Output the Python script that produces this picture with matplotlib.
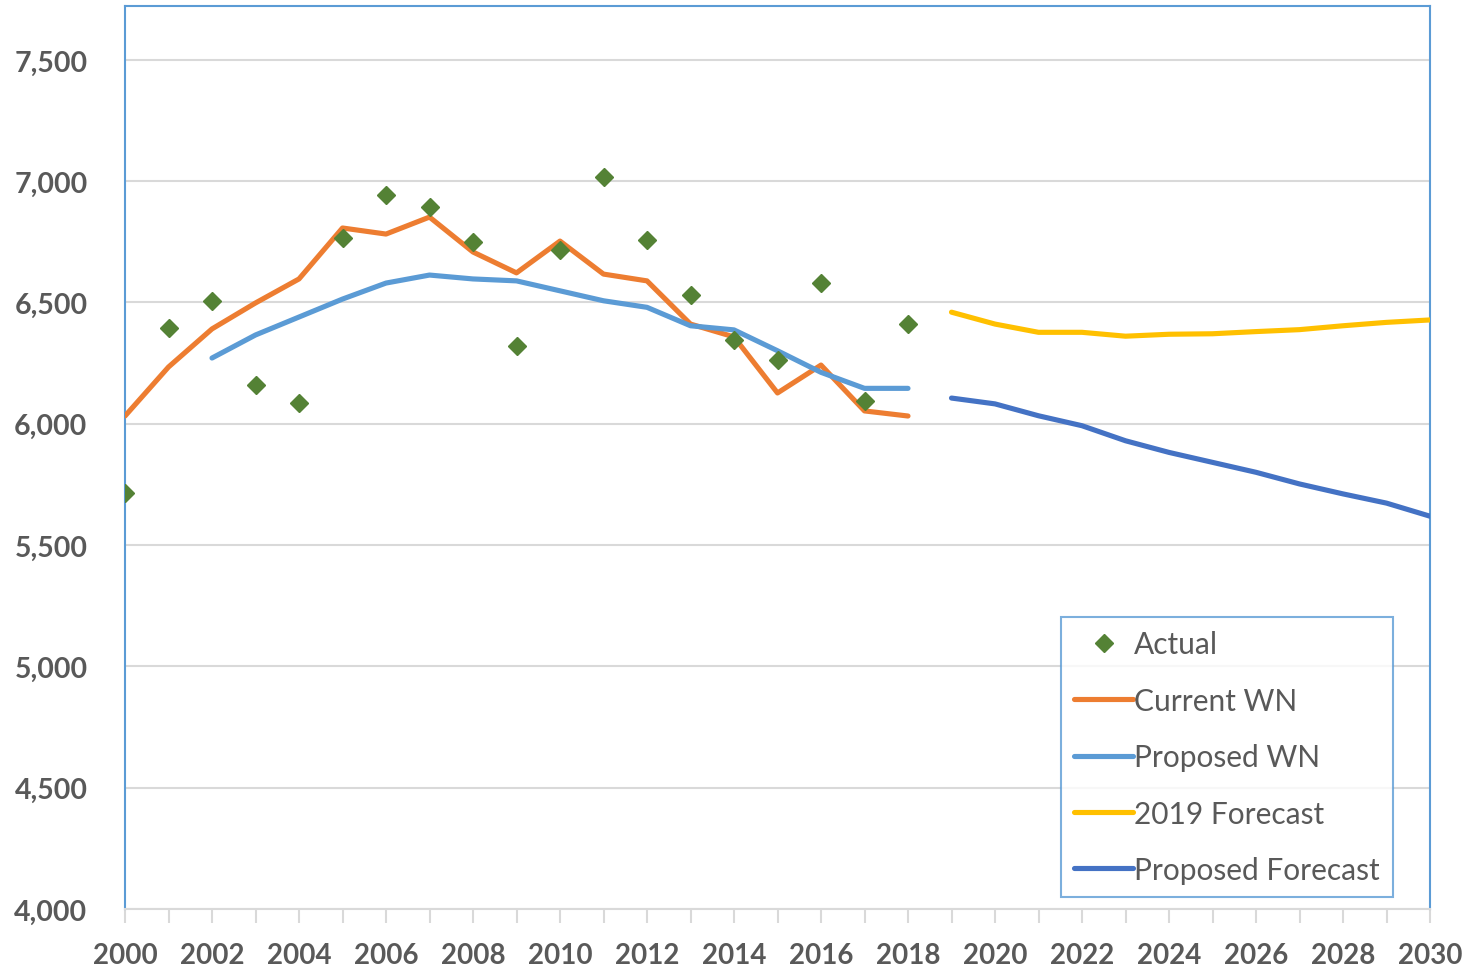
import numpy as np
import matplotlib.pyplot as plt
from matplotlib.ticker import FuncFormatter, MultipleLocator

hist_years = list(range(2000, 2019))
actual = [5715, 6395, 6506, 6160, 6086, 6766, 6943, 6894, 6749, 6321,
          6716, 7017, 6758, 6531, 6345, 6263, 6580, 6094, 6411]
current_wn = [6032, 6234, 6391, 6498, 6597, 6807, 6782, 6852, 6708, 6622,
              6753, 6617, 6589, 6411, 6358, 6127, 6242, 6053, 6032]
prop_years = list(range(2002, 2019))
proposed_wn = [6271, 6366, 6440, 6514, 6580, 6613, 6597, 6589, 6548, 6507,
               6480, 6404, 6387, 6301, 6212, 6146, 6146]
fc_years = list(range(2019, 2031))
forecast_2019 = [6460, 6411, 6377, 6377, 6361, 6369, 6371, 6380, 6388, 6404, 6418, 6428]
proposed_fc = [6106, 6082, 6033, 5992, 5930, 5882, 5841, 5800, 5752, 5711, 5673, 5619]

plt.rcParams['font.family'] = ['Lato', 'DejaVu Sans']
txt = '#595959'
lw = 3.7

fig = plt.figure(figsize=(14.68, 9.70), dpi=100)
ax = fig.add_axes([125 / 1468, 1 - 910 / 970, 1305 / 1468, 903 / 970])

ax.plot(hist_years, actual, linestyle='none', marker='D', markersize=9,
        color='#548235', label='Actual', zorder=5)
ax.plot(hist_years, current_wn, color='#ED7D31', lw=lw, solid_capstyle='round',
        label='Current WN', zorder=3)
ax.plot(prop_years, proposed_wn, color='#5B9BD5', lw=lw, solid_capstyle='round',
        label='Proposed WN', zorder=3)
ax.plot(fc_years, forecast_2019, color='#FFC000', lw=lw, solid_capstyle='round',
        label='2019 Forecast', zorder=3)
ax.plot(fc_years, proposed_fc, color='#4472C4', lw=lw, solid_capstyle='round',
        label='Proposed Forecast', zorder=3)

ax.set_xlim(2000, 2030)
ax.set_ylim(4000, 7722)
ax.yaxis.set_major_locator(MultipleLocator(500))
ax.yaxis.set_major_formatter(FuncFormatter(lambda v, p: f'{int(v):,}'))
ax.xaxis.set_major_locator(MultipleLocator(2))
ax.xaxis.set_minor_locator(MultipleLocator(1))
ax.grid(axis='y', color='#D9D9D9', lw=1.5, zorder=0)

for s in ['left', 'top', 'right']:
    ax.spines[s].set_color('#5B9BD5')
    ax.spines[s].set_linewidth(1.5)
ax.spines['bottom'].set_color('#D9D9D9')
ax.spines['bottom'].set_linewidth(1.5)

ax.tick_params(axis='y', length=0, pad=27, labelsize=20.5, labelcolor=txt)
ax.tick_params(axis='x', which='both', length=10, width=1.5, color='#D9D9D9',
               direction='out', pad=14, labelsize=20, labelcolor=txt)
ax.tick_params(axis='x', which='minor', labelbottom=False)
for lab in ax.get_xticklabels() + ax.get_yticklabels():
    lab.set_fontweight('bold')

leg = ax.legend(loc='upper left', bbox_to_anchor=(1061 / 1468, 1 - 618 / 970),
                bbox_transform=fig.transFigure, fontsize=21.5, frameon=True,
                fancybox=False, edgecolor='#5B9BD5', handlelength=1.95,
                handletextpad=0.05, labelspacing=0.95, borderpad=0.45,
                borderaxespad=0)
leg.get_frame().set_linewidth(1.5)
for t in leg.get_texts():
    t.set_color(txt)

fig.savefig('out.png', dpi=100)
